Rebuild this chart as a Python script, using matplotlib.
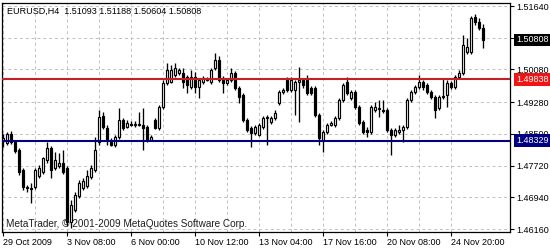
"""
EURUSD H4 candlestick chart in the MetaTrader 4 look, with two horizontal levels.
Writes out.png (550x250).
"""
import matplotlib
matplotlib.use("Agg")
import matplotlib.pyplot as plt
import matplotlib.transforms as mtransforms
import numpy as np

INK, GRID = "#000000", "#c0c0c0"
RED_LINE, RED_BOX, NAVY = "#c41e26", "#f01414", "#000080"

SYMBOL = "EURUSD,H4"
LAST_BAR = "1.51093 1.51188 1.50604 1.50808"
CREDIT = "MetaTrader, \u00a9 2001-2009 MetaQuotes Software Corp."

opens = [
    1.4832, 1.4827, 1.4849, 1.4830, 1.4810, 1.4761, 1.4717, 1.4717, 1.4719, 1.4746,
    1.4756, 1.4786, 1.4815, 1.4766, 1.4771, 1.4778, 1.4766, 1.4633, 1.4663, 1.4697,
    1.4717, 1.4722, 1.4744, 1.4761, 1.4830, 1.4894, 1.4864, 1.4830, 1.4822, 1.4842,
    1.4884, 1.4866, 1.4874, 1.4871, 1.4874, 1.4871, 1.4866, 1.4835, 1.4884, 1.4864,
    1.4916, 1.4975, 1.4977, 1.4995, 1.5000, 1.5000, 1.4990, 1.4965, 1.4990, 1.4965,
    1.4977, 1.4985, 1.4977, 1.5012, 1.5031, 1.4987, 1.4975, 1.4982, 1.5000, 1.4962,
    1.4945, 1.4884, 1.4864, 1.4852, 1.4847, 1.4866, 1.4889, 1.4879, 1.4889, 1.4925,
    1.4953, 1.4982, 1.4958, 1.4958, 1.4977, 1.4982, 1.4982, 1.4962, 1.4962, 1.4896,
    1.4835, 1.4854, 1.4871, 1.4871, 1.4889, 1.4933, 1.4977, 1.4938, 1.4953, 1.4916,
    1.4879, 1.4859, 1.4854, 1.4908, 1.4911, 1.4908, 1.4908, 1.4859, 1.4847, 1.4854,
    1.4859, 1.4866, 1.4933, 1.4953, 1.4965, 1.4977, 1.4970, 1.4953, 1.4940, 1.4913,
    1.4940, 1.4945, 1.4975, 1.4965, 1.4990, 1.5000, 1.5051, 1.5051, 1.5137, 1.5125,
    1.51093,
]
highs = [
    1.4849, 1.4854, 1.4857, 1.4835, 1.4815, 1.4766, 1.4724, 1.4729, 1.4766, 1.4773,
    1.4793, 1.4830, 1.4820, 1.4806, 1.4803, 1.4810, 1.4771, 1.4687, 1.4707, 1.4737,
    1.4741, 1.4761, 1.4773, 1.4842, 1.4908, 1.4904, 1.4871, 1.4840, 1.4847, 1.4913,
    1.4889, 1.4884, 1.4881, 1.4881, 1.4904, 1.4913, 1.4871, 1.4847, 1.4889, 1.4921,
    1.4982, 1.5024, 1.5019, 1.5024, 1.5012, 1.5012, 1.4995, 1.5007, 1.5002, 1.4987,
    1.4992, 1.4990, 1.5012, 1.5048, 1.5041, 1.4992, 1.4987, 1.5012, 1.5004, 1.4967,
    1.4950, 1.4889, 1.4869, 1.4871, 1.4876, 1.4894, 1.4896, 1.4894, 1.4908, 1.4958,
    1.4962, 1.4990, 1.4990, 1.4982, 1.5014, 1.4987, 1.4995, 1.4967, 1.4967, 1.4901,
    1.4859, 1.4876, 1.4881, 1.4894, 1.4938, 1.4975, 1.4990, 1.4958, 1.4958, 1.4921,
    1.4884, 1.4866, 1.4921, 1.4928, 1.4933, 1.4933, 1.4913, 1.4864, 1.4864, 1.4871,
    1.4871, 1.4938, 1.4958, 1.4970, 1.4995, 1.4982, 1.4975, 1.4958, 1.4945, 1.4945,
    1.4987, 1.4982, 1.4980, 1.4995, 1.5007, 1.5093, 1.5085, 1.5139, 1.5144, 1.5134,
    1.51188,
]
lows = [
    1.4818, 1.4822, 1.4825, 1.4803, 1.4749, 1.4712, 1.4707, 1.4680, 1.4714, 1.4741,
    1.4751, 1.4778, 1.4741, 1.4761, 1.4766, 1.4751, 1.4624, 1.4619, 1.4658, 1.4692,
    1.4712, 1.4717, 1.4739, 1.4756, 1.4822, 1.4862, 1.4822, 1.4820, 1.4818, 1.4837,
    1.4859, 1.4864, 1.4869, 1.4866, 1.4869, 1.4810, 1.4830, 1.4832, 1.4862, 1.4859,
    1.4911, 1.4970, 1.4975, 1.4990, 1.4995, 1.4962, 1.4950, 1.4960, 1.4950, 1.4938,
    1.4972, 1.4980, 1.4972, 1.5007, 1.4977, 1.4950, 1.4970, 1.4977, 1.4958, 1.4925,
    1.4879, 1.4854, 1.4818, 1.4847, 1.4844, 1.4862, 1.4822, 1.4874, 1.4884, 1.4921,
    1.4948, 1.4953, 1.4953, 1.4896, 1.4879, 1.4962, 1.4945, 1.4945, 1.4891, 1.4822,
    1.4806, 1.4849, 1.4869, 1.4866, 1.4884, 1.4928, 1.4945, 1.4933, 1.4911, 1.4871,
    1.4849, 1.4842, 1.4849, 1.4904, 1.4891, 1.4901, 1.4854, 1.4798, 1.4842, 1.4849,
    1.4830, 1.4862, 1.4928, 1.4948, 1.4960, 1.4958, 1.4948, 1.4935, 1.4889, 1.4908,
    1.4935, 1.4916, 1.4960, 1.4960, 1.4985, 1.4995, 1.5046, 1.5046, 1.5117, 1.5105,
    1.50604,
]
closes = [
    1.4840, 1.4849, 1.4830, 1.4808, 1.4756, 1.4719, 1.4719, 1.4714, 1.4761, 1.4766,
    1.4791, 1.4815, 1.4761, 1.4786, 1.4778, 1.4756, 1.4633, 1.4675, 1.4700, 1.4729,
    1.4734, 1.4746, 1.4766, 1.4810, 1.4891, 1.4866, 1.4835, 1.4822, 1.4842, 1.4884,
    1.4864, 1.4876, 1.4871, 1.4874, 1.4871, 1.4864, 1.4835, 1.4842, 1.4864, 1.4916,
    1.4975, 1.5007, 1.5007, 1.5012, 1.5007, 1.4977, 1.4970, 1.4990, 1.4965, 1.4982,
    1.4987, 1.4982, 1.5007, 1.5031, 1.4982, 1.4975, 1.4982, 1.5000, 1.4962, 1.4940,
    1.4884, 1.4859, 1.4852, 1.4866, 1.4871, 1.4889, 1.4891, 1.4889, 1.4901, 1.4953,
    1.4958, 1.4958, 1.4982, 1.4977, 1.4982, 1.4970, 1.4950, 1.4950, 1.4896, 1.4840,
    1.4854, 1.4871, 1.4876, 1.4889, 1.4933, 1.4970, 1.4950, 1.4953, 1.4916, 1.4876,
    1.4854, 1.4854, 1.4916, 1.4916, 1.4913, 1.4906, 1.4859, 1.4847, 1.4859, 1.4859,
    1.4866, 1.4933, 1.4953, 1.4965, 1.4977, 1.4965, 1.4953, 1.4940, 1.4908, 1.4940,
    1.4943, 1.4975, 1.4965, 1.4990, 1.5000, 1.5068, 1.5063, 1.5134, 1.5125, 1.5110,
    1.50808,
]

resistance = 1.49838
support = 1.48329
last_price = 1.50808

price_ticks = [1.4616, 1.4694, 1.4772, 1.4850, 1.4928, 1.5008, 1.5086, 1.5164]
time_labels = ["29 Oct 2009", "3 Nov 08:00", "6 Nov 00:00", "10 Nov 12:00",
               "13 Nov 04:00", "17 Nov 16:00", "20 Nov 08:00", "24 Nov 20:00"]
BARS_PER_LABEL = 16

plt.rcParams.update({
    "font.family": ["Liberation Sans", "DejaVu Sans"],
    "font.size": 6.5,
    "text.color": INK,
    "xtick.color": INK, "ytick.color": INK,
})

fig = plt.figure(figsize=(5.5, 2.5), dpi=100)
ax = fig.add_axes([2 / 550, 18 / 250, 508 / 550, 229 / 250])

o, h, l, c = (np.array(a) for a in (opens, highs, lows, closes))
x = np.arange(len(o))
up = c >= o

# wicks first, then bodies (white = bull, black = bear)
ax.vlines(x, l, h, color=INK, lw=0.95, zorder=2)
ax.bar(x, np.abs(c - o), bottom=np.minimum(o, c), width=0.5,
       color=np.where(up, "white", INK), edgecolor=INK, linewidth=0.85, zorder=3)

ax.axhline(resistance, color=RED_LINE, lw=1.5, zorder=4)
ax.axhline(support, color=NAVY, lw=1.5, zorder=4)

ax.set_xlim(-0.25, 126.75)
ax.set_ylim(1.46087, 1.51714)

# axes: prices on the right, left-aligned time labels under the tick
ax.yaxis.tick_right()
ax.set_yticks(price_ticks)
ax.set_yticklabels([f"{p:.5f}" for p in price_ticks])
ax.tick_params(axis="y", length=3, width=0.8, pad=1.5)
major = np.arange(len(time_labels)) * BARS_PER_LABEL
ax.set_xticks(major)
ax.set_xticklabels(time_labels, ha="left")
ax.set_xticks(major[:-1] + BARS_PER_LABEL // 2, minor=True)
ax.tick_params(axis="x", which="major", length=3, width=0.8, pad=1.5)
ax.tick_params(axis="x", which="minor", length=0)
ax.grid(True, which="both", color=GRID, ls=(0, (3, 3)), lw=0.7)
ax.set_axisbelow(True)
for s in ax.spines.values():
    s.set_color(INK)
    s.set_linewidth(0.9)

# price tags on the right axis
tag = mtransforms.blended_transform_factory(ax.transAxes, ax.transData)
for price, bg in ((last_price, INK), (resistance, RED_BOX), (support, NAVY)):
    ax.text(1.012, price, f"{price:.5f}", transform=tag, va="center", ha="left",
            color="white", clip_on=False, zorder=6,
            bbox=dict(boxstyle="square,pad=0.2", fc=bg, ec="none"))

ax.text(0.01, 0.965, f"{SYMBOL}  {LAST_BAR}", transform=ax.transAxes,
        va="center", ha="left")
ax.text(0.008, 0.035, CREDIT, transform=ax.transAxes, va="center", ha="left",
        fontsize=7.2, color="#202020")

fig.savefig("out.png", dpi=100)
